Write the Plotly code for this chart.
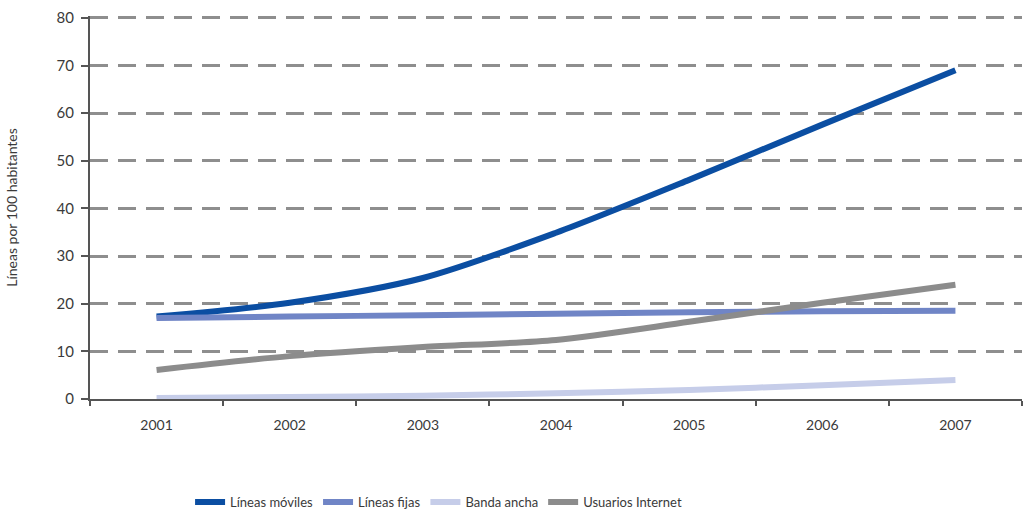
import plotly.graph_objects as go

# Years on the horizontal axis
years = ["2001", "2002", "2003", "2004", "2005", "2006", "2007"]

# Lines per 100 inhabitants
lineas_moviles = [17.3, 20.2, 25.4, 34.9, 46.0, 57.6, 69.0]
lineas_fijas = [17.0, 17.3, 17.6, 17.9, 18.2, 18.4, 18.5]
banda_ancha = [0.2, 0.4, 0.7, 1.2, 1.9, 2.9, 4.0]
usuarios_internet = [6.1, 9.0, 10.9, 12.4, 16.2, 20.2, 24.0]

y_ticks = [0, 10, 20, 30, 40, 50, 60, 70, 80]

series = [
    ("Líneas móviles", lineas_moviles, "#0b4ea2"),
    ("Líneas fijas", lineas_fijas, "#7085c6"),
    ("Banda ancha", banda_ancha, "#c6cde9"),
    ("Usuarios Internet", usuarios_internet, "#8c8c8c"),
]

fig = go.Figure()
for name, values, color in series:
    fig.add_trace(go.Scatter(
        x=years, y=values, name=name, mode="lines",
        line=dict(color=color, width=6, shape="spline", smoothing=0.8),
    ))

font_family = "Lato, 'Open Sans', sans-serif"
text_color = "#3a3a3a"

fig.update_layout(
    width=1032, height=516,
    margin=dict(l=90, r=10, t=16, b=117, autoexpand=False),
    paper_bgcolor="white", plot_bgcolor="white",
    font=dict(family=font_family, size=13, color=text_color),
    showlegend=True,
    legend=dict(
        orientation="h", x=0.374, xanchor="center",
        yref="container", y=0.027, yanchor="middle",
        font=dict(size=13, color=text_color), itemwidth=30,
        traceorder="normal",
    ),
)

fig.update_xaxes(
    type="category", range=[-0.5, 6.5], automargin=False,
    showline=True, linecolor="#555555", linewidth=2,
    ticks="outside", tickson="boundaries", ticklen=5, tickcolor="#555555", tickwidth=2,
    showgrid=False, zeroline=False,
    ticklabelstandoff=12,
    tickfont=dict(size=14, color=text_color),
)

fig.update_yaxes(
    range=[0, 80.4], tickvals=y_ticks, automargin=False,
    showline=True, linecolor="#555555", linewidth=2,
    ticks="outside", ticklen=7, tickcolor="#555555", tickwidth=2,
    showgrid=True, gridcolor="#8e8e8e", gridwidth=2.5, griddash="18px,10px",
    zeroline=False,
    ticklabelstandoff=4,
    tickfont=dict(size=15, color=text_color),
    title=dict(text="Líneas por 100 habitantes", font=dict(size=14, color=text_color), standoff=36),
)

fig.write_html("out.html")
